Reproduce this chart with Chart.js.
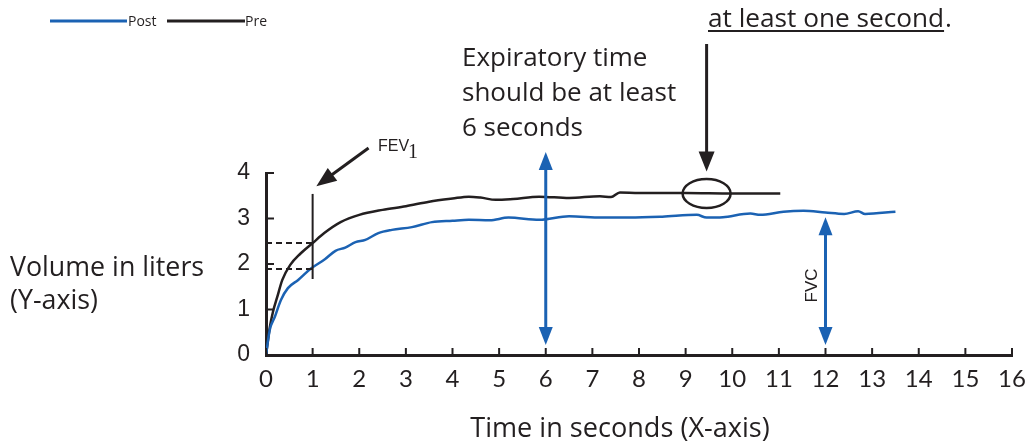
<!DOCTYPE html>
<html>
<head>
<meta charset="utf-8">
<script src="https://cdn.jsdelivr.net/npm/chart.js@4.4.0/dist/chart.umd.min.js"></script>
<style>
  html, body { margin: 0; padding: 0; background: #fff; }
  #wrap { width: 1029px; height: 442px; position: relative; }
</style>
</head>
<body>
<div id="wrap"><canvas id="spiro"></canvas></div>
<script>
// Spirometry volume-time curves (seconds, liters)
const preTime = [0, 0.02, 0.08, 0.15, 0.24, 0.35, 0.52, 0.73, 1.0, 1.25, 1.6, 2.0, 2.5, 3.0, 3.5, 4.0, 4.35, 4.6, 4.93, 5.3, 5.86, 6.5, 7.16, 7.4, 7.59, 8.0, 9.0, 10.0, 11.03];
const preVol  = [0, 0.15, 0.6, 0.95, 1.27, 1.65, 1.98, 2.22, 2.46, 2.68, 2.92, 3.08, 3.19, 3.27, 3.37, 3.44, 3.48, 3.46, 3.41, 3.43, 3.48, 3.45, 3.49, 3.47, 3.57, 3.56, 3.56, 3.55, 3.55];

const postTime = [0, 0.08, 0.19, 0.32, 0.47, 0.69, 0.95, 1.27, 1.49, 1.7, 1.92, 2.13, 2.41, 2.7, 3.13, 3.56, 4.0, 4.35, 4.8, 5.2, 5.86, 6.5, 7.2, 7.8, 8.5, 9.24, 9.45, 9.8, 10.39, 10.6, 11.1, 11.53, 12.0, 12.4, 12.7, 12.85, 13.5];
const postVol  = [0, 0.55, 0.84, 1.21, 1.47, 1.65, 1.89, 2.11, 2.29, 2.36, 2.48, 2.53, 2.68, 2.75, 2.81, 2.92, 2.95, 2.97, 2.96, 3.02, 2.97, 3.05, 3.02, 3.02, 3.04, 3.08, 3.02, 3.03, 3.11, 3.08, 3.15, 3.17, 3.13, 3.1, 3.16, 3.1, 3.15];

const xTicks = [0, 1, 2, 3, 4, 5, 6, 7, 8, 9, 10, 11, 12, 13, 14, 15, 16];
const yTicks = [0, 1, 2, 3, 4];

// annotation anchors in data units (seconds, liters)
const fev1Time = 1;
const fev1Pre = 2.46;
const fev1Post = 1.89;
const minTime = 6;
const fvcTime = 12;
const fvcTop = 3.03;
const plateauTime = 9.45;
const plateauVol = 3.55;

const BLUE = '#1b62b3';
const BLACK = '#231f20';
const FONT = '"Open Sans"';

const toPoints = (t, v) => t.map((x, i) => ({ x: x, y: v[i] }));

function arrowHead(ctx, fx, fy, tx, ty, len, half) {
    const a = Math.atan2(ty - fy, tx - fx);
    ctx.beginPath();
    ctx.moveTo(tx, ty);
    ctx.lineTo(tx - len * Math.cos(a) + half * Math.sin(a), ty - len * Math.sin(a) - half * Math.cos(a));
    ctx.lineTo(tx - len * Math.cos(a) - half * Math.sin(a), ty - len * Math.sin(a) + half * Math.cos(a));
    ctx.closePath();
    ctx.fill();
}

function arrow(ctx, fx, fy, tx, ty, color, lw, len, half, both) {
    ctx.save();
    ctx.strokeStyle = color;
    ctx.fillStyle = color;
    ctx.lineWidth = lw;
    const a = Math.atan2(ty - fy, tx - fx);
    ctx.beginPath();
    ctx.moveTo(both ? fx + (len - 2) * Math.cos(a) : fx, both ? fy + (len - 2) * Math.sin(a) : fy);
    ctx.lineTo(tx - (len - 2) * Math.cos(a), ty - (len - 2) * Math.sin(a));
    ctx.stroke();
    arrowHead(ctx, fx, fy, tx, ty, len, half);
    if (both) arrowHead(ctx, tx, ty, fx, fy, len, half);
    ctx.restore();
}

// pick a font size so the text spans roughly the width seen in the original
function fitFont(ctx, text, width) {
    ctx.font = '20px ' + FONT;
    const size = 20 * width / ctx.measureText(text).width;
    ctx.font = size.toFixed(1) + 'px ' + FONT;
}

const annotations = {
    id: 'annotations',
    afterDraw(chart) {
        const { ctx, scales: { x, y } } = chart;
        const X = v => x.getPixelForValue(v);
        const Y = v => y.getPixelForValue(v);
        const left = chart.chartArea.left, bottom = chart.chartArea.bottom;

        ctx.save();
        // inward ticks
        ctx.strokeStyle = BLACK;
        ctx.lineWidth = 2;
        xTicks.forEach(t => {
            ctx.beginPath();
            ctx.moveTo(X(t), bottom);
            ctx.lineTo(X(t), bottom - 7);
            ctx.stroke();
        });
        yTicks.forEach(v => {
            ctx.beginPath();
            ctx.moveTo(left, Y(v));
            ctx.lineTo(left + 8, Y(v));
            ctx.stroke();
        });

        // FEV1 marker and dashed guides
        ctx.lineWidth = 2;
        ctx.beginPath();
        ctx.moveTo(X(fev1Time), Y(3.54));
        ctx.lineTo(X(fev1Time), Y(1.67));
        ctx.stroke();
        ctx.setLineDash([6, 4]);
        [fev1Pre, fev1Post].forEach(v => {
            ctx.beginPath();
            ctx.moveTo(left, Y(v));
            ctx.lineTo(X(fev1Time), Y(v));
            ctx.stroke();
        });
        ctx.setLineDash([]);

        arrow(ctx, X(2.2), Y(4.55), X(1.08), Y(3.71), BLACK, 3, 20, 8, false);
        ctx.fillStyle = BLACK;
        ctx.textBaseline = 'alphabetic';
        ctx.font = '16px "Liberation Sans"';
        ctx.fillText('FEV', 378, 151);
        ctx.font = '20px "Liberation Serif"';
        ctx.fillText('1', 408, 158);

        // 6 second and FVC arrows
        arrow(ctx, X(minTime), Y(0.22), X(minTime), Y(4.46), BLUE, 3, 18, 7, true);
        arrow(ctx, X(fvcTime), Y(0.22), X(fvcTime), Y(fvcTop), BLUE, 3, 18, 7, true);
        ctx.save();
        ctx.translate(X(fvcTime) - 13, Y(1.53));
        ctx.rotate(-Math.PI / 2);
        ctx.textAlign = 'center';
        ctx.textBaseline = 'middle';
        ctx.font = '17px "Liberation Sans"';
        ctx.fillStyle = BLACK;
        ctx.fillText('FVC', 0, 0);
        ctx.restore();

        // plateau arrow and ellipse
        arrow(ctx, X(plateauTime), 44, X(plateauTime), Y(plateauVol) - 22, BLACK, 3, 20, 8, false);
        ctx.lineWidth = 2.5;
        ctx.beginPath();
        ctx.ellipse(X(plateauTime), Y(plateauVol), 24, 14.5, 0, 0, Math.PI * 2);
        ctx.stroke();

        // texts
        ctx.fillStyle = BLACK;
        ctx.textAlign = 'left';
        ctx.textBaseline = 'alphabetic';
        fitFont(ctx, 'should be at least', 214);
        ctx.fillText('Expiratory time', 462, 66);
        ctx.fillText('should be at least', 462, 101);
        ctx.fillText('6 seconds', 462, 136);

        fitFont(ctx, 'at least one second', 236);
        ctx.fillText('at least one second', 708, 27);
        const w = ctx.measureText('at least one second').width;
        ctx.fillText('.', 708 + w + 1, 27);
        ctx.fillRect(708, 30, w, 2);

        fitFont(ctx, 'Volume in liters', 194);
        ctx.fillText('Volume in liters', 10, 276);
        ctx.fillText('(Y-axis)', 10, 309);

        fitFont(ctx, 'Time in seconds (X-axis)', 300);
        ctx.textAlign = 'center';
        ctx.fillText('Time in seconds (X-axis)', 620, 437);

        // legend
        ctx.textAlign = 'left';
        ctx.font = '14px ' + FONT;
        ctx.lineWidth = 3;
        ctx.strokeStyle = BLUE;
        ctx.beginPath(); ctx.moveTo(50, 21); ctx.lineTo(127, 21); ctx.stroke();
        ctx.fillText('Post', 128, 26);
        ctx.strokeStyle = BLACK;
        ctx.beginPath(); ctx.moveTo(167, 21); ctx.lineTo(245, 21); ctx.stroke();
        ctx.fillText('Pre', 245, 26);
        ctx.restore();
    }
};

new Chart(document.getElementById('spiro'), {
    type: 'line',
    data: {
        datasets: [
            {
                label: 'Post',
                data: toPoints(postTime, postVol),
                borderColor: BLUE,
                borderWidth: 2.5,
                pointRadius: 0,
                cubicInterpolationMode: 'monotone',
                fill: false
            },
            {
                label: 'Pre',
                data: toPoints(preTime, preVol),
                borderColor: BLACK,
                borderWidth: 2.5,
                pointRadius: 0,
                cubicInterpolationMode: 'monotone',
                fill: false
            }
        ]
    },
    options: {
        responsive: true,
        maintainAspectRatio: false,
        animation: false,
        layout: { padding: { left: 206, top: 173, right: 17, bottom: 0 } },
        plugins: { legend: { display: false }, tooltip: { enabled: false } },
        scales: {
            x: {
                type: 'linear',
                min: 0,
                max: 16,
                afterBuildTicks: s => { s.ticks = xTicks.map(v => ({ value: v })); },
                afterFit: s => { s.height = 87; s.paddingLeft = 0; s.paddingRight = 0; },
                grid: { display: false, drawTicks: false },
                border: { display: true, color: BLACK, width: 3 },
                ticks: { color: BLACK, padding: 10, maxRotation: 0, font: { family: 'Lato', size: 24 } }
            },
            y: {
                type: 'linear',
                min: 0,
                max: 4,
                afterBuildTicks: s => { s.ticks = yTicks.map(v => ({ value: v })); },
                afterFit: s => { s.width = 60; s.paddingTop = 0; s.paddingBottom = 0; },
                grid: { display: false, drawTicks: false },
                border: { display: true, color: BLACK, width: 3 },
                ticks: { color: BLACK, padding: 16, font: { family: '"Liberation Sans"', size: 23 } }
            }
        }
    },
    plugins: [annotations]
});
</script>
</body>
</html>
